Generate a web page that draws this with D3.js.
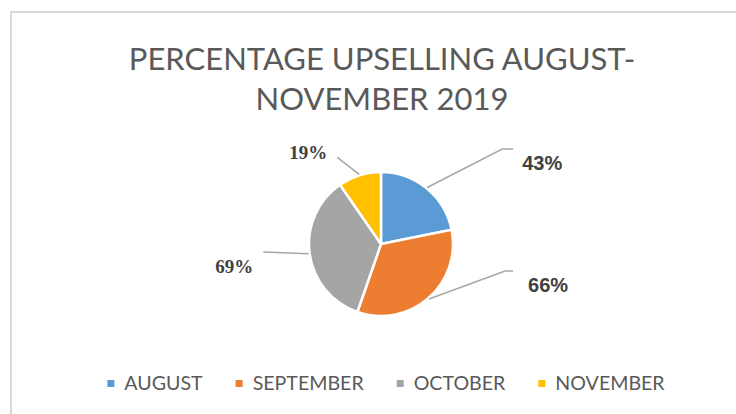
<!DOCTYPE html>
<html>
<head>
<meta charset="utf-8">
<script src="https://cdn.jsdelivr.net/npm/d3@7"></script>
<style>
  body { margin: 0; background: #fff; }
</style>
</head>
<body>
<svg id="chart" width="736" height="414"></svg>
<script>
// data
const months = ['AUGUST', 'SEPTEMBER', 'OCTOBER', 'NOVEMBER']
const upsell = [43, 66, 69, 19]
const colors = ['#5b9bd5', '#ed7d31', '#a5a5a5', '#ffc000']
const titleLines = ['PERCENTAGE UPSELLING AUGUST-', 'NOVEMBER 2019']

const width = 736, height = 414
const cx = 381, cy = 244, radius = 72

// label placement (Excel "best fit" style): elbow in polar coords, tail, text offset
const labelLayout = [
  { angle: 51.9, dist: 154, tail: 11, dx: 9, dy: 21, anchor: 'start', font: 'sans' },
  { angle: 102.3, dist: 127, tail: 8, dx: 15, dy: 21, anchor: 'start', font: 'sans' },
  { angle: 266.1, dist: 118, tail: 0, dx: -10, dy: 21, anchor: 'end', font: 'serif' },
  { angle: 333.2, dist: 97, tail: 0, dx: -10, dy: 2, anchor: 'end', font: 'serif' }
]

const svg = d3.select('#chart')

// chart area border
svg.append('rect')
  .attr('x', 11).attr('y', 12)
  .attr('width', width).attr('height', height)
  .attr('fill', 'none')
  .attr('stroke', '#d9d9d9')
  .attr('stroke-width', 2)

// title
svg.append('g').selectAll('text')
  .data(titleLines)
  .join('text')
  .attr('x', 382)
  .attr('y', (d, i) => 70 + i * 40)
  .attr('text-anchor', 'middle')
  .style('font-family', 'Lato, "Open Sans", sans-serif')
  .style('font-size', '31px')
  .style('fill', '#595959')
  .text(d => d)

// pie
const pie = d3.pie().sort(null).value(d => d)
const arcs = pie(upsell)
const arc = d3.arc().innerRadius(0).outerRadius(radius)

const g = svg.append('g').attr('transform', `translate(${cx},${cy})`)

g.selectAll('path.slice')
  .data(arcs)
  .join('path')
  .attr('class', 'slice')
  .attr('d', arc)
  .attr('fill', (d, i) => colors[i])
  .attr('stroke', '#fff')
  .attr('stroke-width', 2.5)
  .attr('stroke-linejoin', 'round')

// leader lines + labels
const toRad = a => a * Math.PI / 180
arcs.forEach((d, i) => {
  const L = labelLayout[i]
  const mid = (d.startAngle + d.endAngle) / 2
  const p0 = d3.pointRadial(mid, radius + 1)
  const p1 = d3.pointRadial(toRad(L.angle), L.dist)
  const p2 = [p1[0] + L.tail, p1[1]]

  g.append('path')
    .attr('d', d3.line()([p0, p1, p2]))
    .attr('fill', 'none')
    .attr('stroke', '#a6a6a6')
    .attr('stroke-width', 1.5)

  g.append('text')
    .attr('x', p2[0] + L.dx)
    .attr('y', p2[1] + L.dy)
    .attr('text-anchor', L.anchor)
    .style('font-family', L.font === 'sans' ? '"Liberation Sans", Arial, sans-serif' : '"Liberation Serif", "Times New Roman", serif')
    .style('font-weight', 'bold')
    .style('font-size', L.font === 'sans' ? '20px' : '19px')
    .style('fill', '#404040')
    .text(Math.round(d.value) + '%')
})

// legend
const legend = svg.append('g')
let xpos = 0
months.forEach((m, i) => {
  const item = legend.append('g').attr('transform', `translate(${xpos},0)`)
  item.append('rect')
    .attr('x', 0).attr('y', -10)
    .attr('width', 7).attr('height', 7)
    .attr('fill', colors[i])
  const t = item.append('text')
    .attr('x', 17).attr('y', 0)
    .style('font-family', 'Lato, "Open Sans", sans-serif')
    .style('font-size', '19.6px')
    .style('fill', '#595959')
    .text(m)
  xpos += 17 + t.node().getComputedTextLength() + 33
})
const legendW = xpos - 33
legend.attr('transform', `translate(${386 - legendW / 2},390)`)
</script>
</body>
</html>
